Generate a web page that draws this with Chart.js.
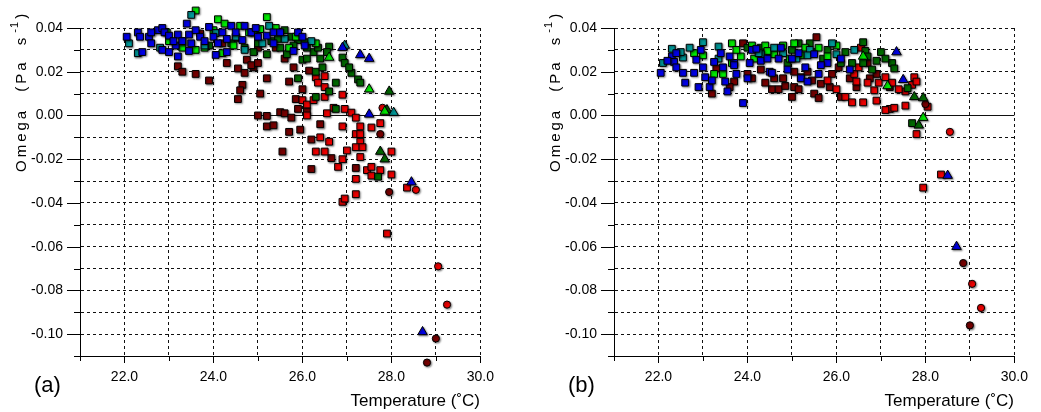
<!DOCTYPE html>
<html>
<head>
<meta charset="utf-8">
<script src="https://cdn.jsdelivr.net/npm/chart.js@4"></script>
<style>
  html, body { margin: 0; padding: 0; background: #fff; }
  #wrap { position: relative; width: 1041px; height: 412px; }
  .panel { position: absolute; top: 0; width: 507px; height: 412px; }
</style>
</head>
<body>
<div id="wrap">
  <div class="panel" style="left:0"><canvas id="panelA" width="507" height="412"></canvas></div>
  <div class="panel" style="left:534px"><canvas id="panelB" width="507" height="412"></canvas></div>
</div>
<script>
// temperature (x) / omega (y) pairs, one array per colour + marker
var aBlueSq = [[22.05,0.036],[22.3,0.038],[22.35,0.036],[22.55,0.036],[22.6,0.033],[22.4,0.029],[22.75,0.039],[22.85,0.040],[22.9,0.038],[23.0,0.0365],[23.2,0.037],[23.15,0.032],[22.85,0.030],[23.2,0.027],[23.4,0.042],[23.45,0.037],[23.5,0.033],[23.45,0.0295],[23.6,0.039],[23.7,0.036],[23.8,0.034],[23.9,0.0405],[24.0,0.036],[24.05,0.0277],[24.2,0.038],[24.3,0.035],[24.4,0.041],[24.5,0.038],[24.65,0.0345],[24.7,0.041],[24.85,0.038],[25.0,0.036],[25.2,0.0365],[25.35,0.038],[25.5,0.038],[25.35,0.033],[25.9,0.038],[26.05,0.032],[25.8,0.0295],[23.1,0.034],[22.6,0.038],[24.1,0.033],[23.3,0.034],[24.95,0.040],[26.0,0.036],[24.3,0.029],[23.0,0.029]]
var aTealSq = [[22.1,0.033],[22.3,0.0285],[23.5,0.046],[23.3,0.034],[24.05,0.0377],[24.5,0.036],[25.25,0.041],[25.1,0.033],[23.8,0.032],[24.7,0.030],[25.6,0.035],[26.2,0.034],[22.8,0.031]]
var aLimeSq = [[23.6,0.048],[22.95,0.038],[23.6,0.030],[23.8,0.031],[24.1,0.044],[24.25,0.042],[24.2,0.0285],[24.8,0.038],[25.2,0.045],[24.9,0.038],[25.85,0.036],[23.0,0.034],[24.45,0.032],[24.6,0.041],[25.05,0.0395],[25.4,0.040],[24.0,0.039],[25.7,0.031],[26.3,0.033],[23.3,0.031]]
var aDkGreenSq = [[24.7,0.031],[24.4,0.033],[25.0,0.033],[25.3,0.034],[25.6,0.039],[25.75,0.036],[25.9,0.0345],[26.0,0.0255],[26.1,0.026],[26.25,0.029],[26.4,0.026],[26.6,0.0315],[26.55,0.029],[26.9,0.0265],[26.95,0.024],[27.1,0.0195],[27.25,0.0165],[27.3,0.015],[26.75,0.015],[26.3,0.020],[25.9,0.017],[26.6,0.011],[26.3,0.0085],[27.7,-0.028],[25.5,0.031],[26.1,0.031],[24.9,0.029],[26.45,0.022],[27.05,0.022],[23.9,0.032],[25.2,0.028],[26.75,0.003],[25.45,0.035],[25.8,0.032],[26.05,0.0335],[26.35,0.031],[25.65,0.028]]
var aDkRedSq = [[23.2,0.0225],[23.3,0.020],[23.6,0.019],[23.9,0.016],[24.3,0.024],[24.55,0.0215],[24.7,0.0195],[24.65,0.014],[24.6,0.0115],[24.55,0.0075],[23.7,0.0375],[24.75,0.0255],[24.9,0.022],[24.85,0.023],[25.0,0.024],[25.2,0.017],[25.7,0.0155],[26.15,0.0205],[25.05,0.010],[25.85,0.0075],[25.0,0.000],[25.2,-0.0002],[25.5,0.0015],[25.2,-0.005],[25.35,-0.0045],[25.7,-0.0075],[25.55,-0.0165],[26.2,-0.0245],[25.95,-0.0065],[26.2,-0.011],[26.65,-0.0195],[27.2,-0.024],[25.6,0.001],[25.75,-0.001],[25.9,0.003],[26.1,0.002],[25.4,0.031],[24.2,0.033],[25.6,0.026],[26.0,0.012],[26.4,-0.004],[25.8,0.022],[24.5,0.0355],[25.0,0.031]]
var aRedSq = [[26.3,0.0175],[26.35,0.015],[26.5,0.013],[26.0,0.007],[26.1,0.005],[26.25,0.007],[26.5,0.0085],[26.9,0.0095],[26.7,0.0035],[26.95,0.003],[27.1,0.0013],[27.2,-0.001],[27.3,-0.005],[27.75,-0.0035],[27.55,-0.0055],[27.2,-0.0085],[27.3,-0.0085],[27.3,-0.012],[27.2,-0.0145],[27.35,-0.0145],[27.3,-0.019],[27.45,-0.025],[27.55,-0.0235],[27.55,-0.0275],[27.75,-0.025],[28.0,-0.027],[28.0,-0.0165],[27.2,-0.029],[27.2,-0.036],[26.8,-0.0235],[26.9,-0.020],[26.55,0.001],[26.9,-0.005],[26.3,-0.0165],[26.5,-0.0165],[26.4,-0.010],[26.9,-0.0395],[26.95,-0.038],[27.9,-0.054],[28.35,-0.033],[26.6,-0.012],[27.0,-0.016],[26.5,0.018],[26.1,0.0]]
var aDkGreenTri = [[27.95,0.011],[27.9,0.0025],[27.75,-0.0165],[27.85,-0.020]]
var aLimeTri = [[26.6,0.0265],[27.5,0.012],[27.85,0.0018]]
var aTealTri = [[26.95,0.032],[28.05,0.0013]]
var aBlueTri = [[26.9,0.031],[27.3,0.0277],[27.5,0.026],[27.5,0.0005],[28.45,-0.0305],[28.7,-0.099]]
var aRedCirc = [[27.8,0.0035],[28.55,-0.034],[29.05,-0.069],[29.25,-0.0865]]
var aDkRedCirc = [[27.75,-0.0085],[27.95,-0.035],[29.0,-0.102],[28.8,-0.113]]

var bBlueSq = [[22.05,0.0195],[22.3,0.027],[22.35,0.0245],[22.4,0.022],[22.4,0.0285],[22.55,0.0195],[22.6,0.015],[22.8,0.0195],[22.85,0.0255],[22.9,0.013],[22.95,0.030],[23.05,0.0175],[23.15,0.013],[23.2,0.016],[23.25,0.0245],[23.4,0.0285],[23.45,0.022],[23.5,0.0155],[23.55,0.011],[23.9,0.0057],[23.7,0.024],[23.75,0.019],[24.1,0.030],[24.5,0.020],[24.3,0.025],[24.75,0.031],[24.9,0.021],[25.0,0.026],[25.2,0.017],[25.3,0.022],[24.7,0.026],[25.5,0.028],[25.8,0.024],[26.1,0.026],[23.0,0.022],[24.0,0.017],[25.6,0.019],[26.3,0.021],[22.2,0.025],[23.6,0.027],[23.7,0.023],[24.2,0.0305],[24.55,0.0195],[25.15,0.0285],[25.35,0.0155],[24.45,0.026],[25.65,0.023],[24.05,0.024]]
var bTealSq = [[22.1,0.024],[22.3,0.0305],[22.55,0.0265],[22.7,0.031],[23.0,0.0335],[23.35,0.026],[24.3,0.028],[25.1,0.026],[24.6,0.031],[25.4,0.030],[26.0,0.028],[26.4,0.030],[25.9,0.033],[22.5,0.029],[23.35,0.0315],[24.25,0.0285],[24.8,0.0285],[25.35,0.0275]]
var bLimeSq = [[22.8,0.0285],[23.65,0.033],[23.65,0.024],[23.45,0.019],[23.85,0.027],[24.1,0.032],[24.4,0.032],[24.8,0.032],[24.95,0.026],[25.05,0.033],[23.25,0.019],[24.6,0.028],[25.3,0.031],[25.6,0.031],[26.0,0.032],[25.8,0.027],[23.0,0.0275],[24.45,0.0295],[23.75,0.030],[25.2,0.0275],[24.15,0.026]]
var bDkGreenSq = [[24.0,0.031],[25.15,0.033],[25.4,0.033],[26.6,0.0335],[26.65,0.0295],[26.7,0.027],[26.6,0.024],[27.25,0.024],[27.3,0.0215],[27.6,0.0125],[27.7,-0.0035],[25.7,0.026],[26.2,0.029],[25.45,0.029],[24.5,0.029],[26.9,0.025],[27.0,0.029],[24.9,0.024],[26.35,0.024],[27.1,0.026],[25.8,0.030],[26.1,0.024],[26.8,0.021],[25.0,0.030],[24.3,0.031]]
var bDkRedSq = [[23.2,0.010],[23.3,0.0215],[23.7,0.0155],[23.9,0.033],[24.55,0.012],[24.7,0.012],[24.85,0.0135],[25.0,0.0085],[25.05,0.013],[25.2,0.0175],[25.15,0.012],[25.5,0.010],[25.65,0.0145],[25.6,0.008],[25.85,0.013],[26.1,0.0085],[25.55,0.0358],[26.7,0.024],[24.3,0.021],[24.1,0.017],[23.6,0.013],[24.4,0.015],[25.9,0.019],[26.3,0.017],[26.9,0.019],[27.2,0.013],[24.8,0.017],[25.35,0.020],[26.05,0.022],[24.0,0.019],[24.6,0.017],[25.05,0.020],[25.45,0.016],[26.45,0.013],[26.75,0.017]]
var bRedSq = [[26.4,0.019],[26.2,0.0085],[26.35,0.006],[26.45,0.0155],[26.5,0.022],[26.55,0.031],[26.7,0.015],[26.85,0.0115],[26.9,0.0068],[26.95,0.015],[27.1,0.0175],[27.25,0.015],[27.2,0.003],[27.3,0.0035],[27.1,0.0025],[27.55,0.0045],[27.55,0.011],[27.7,0.014],[27.75,0.0175],[27.8,0.0155],[28.05,0.004],[27.8,-0.0085],[28.35,-0.027],[27.95,-0.033],[26.0,0.012],[25.8,0.016],[26.6,0.006],[27.4,0.012]]
var bDkGreenTri = [[27.75,0.0085],[27.95,0.008],[27.85,-0.0045]]
var bLimeTri = [[26.6,0.027],[27.15,0.0135],[27.95,-0.001]]
var bBlueTri = [[27.35,0.029],[27.5,0.0163],[28.5,-0.0275],[28.7,-0.060]]
var bRedCirc = [[28.55,-0.0075],[29.05,-0.077],[29.25,-0.088]]
var bDkRedCirc = [[28.0,0.0052],[28.85,-0.0675],[29.0,-0.096]]

// axis ranges
var xMin = 21, xMax = 30
var yMin = -0.11, yMax = 0.04

var BLUE = '#0000e8', TEAL = '#009898', LIME = '#00ec00'
var DKGREEN = '#006a00', DKRED = '#780000', RED = '#ee0000'
var FONT = '"Liberation Sans", Arial, sans-serif'

function series(points, color, shape) {
  var r = shape === 'rect' ? 4.8 : (shape === 'triangle' ? 5.5 : 3.6)
  return {
    data: points.map(function (p) { return { x: p[0], y: p[1] } }),
    pointStyle: shape,
    backgroundColor: color,
    borderColor: '#000',
    borderWidth: 1,
    pointRadius: r,
    pointHoverRadius: r,
    clip: false
  }
}

// dashed grid everywhere except the zero line and the axis borders
function gridDash(c) {
  if (c.type === 'tick' && Math.abs(c.tick.value) > 1e-9) return [3, 3]
  return []
}

//----------------------------
//- ticks, titles, shadows   -
//----------------------------
var decor = {
  id: 'decor',
  beforeDatasetsDraw: function (chart) {
    // let markers spill a little past the top/bottom of the plot box
    var area = chart.chartArea
    chart._savedArea = area
    chart.chartArea = Object.assign({}, area, { top: area.top - 30, bottom: area.bottom + 30 })
    var ctx = chart.ctx
    ctx.save()
    ctx.shadowColor = 'rgba(0,0,0,0.45)'
    ctx.shadowBlur = 2
    ctx.shadowOffsetX = 1
    ctx.shadowOffsetY = 1
  },
  afterDatasetsDraw: function (chart) {
    chart.ctx.restore()
    chart.chartArea = chart._savedArea
  },
  afterDraw: function (chart, args, opts) {
    var ctx = chart.ctx
    var xs = chart.scales.x, ys = chart.scales.y
    var area = chart.chartArea
    ctx.save()
    ctx.strokeStyle = '#000'
    ctx.lineWidth = 1
    ctx.beginPath()
    ys.ticks.forEach(function (t) {
      var py = Math.round(ys.getPixelForValue(t.value)) + 0.5
      var k = Math.round(t.value * 100)
      var len = k % 2 === 0 ? 13 : 6
      ctx.moveTo(area.left - len, py)
      ctx.lineTo(area.left, py)
    })
    xs.ticks.forEach(function (t) {
      var px = Math.round(xs.getPixelForValue(t.value)) + 0.5
      var len = t.value % 2 === 0 ? 7 : 5
      ctx.moveTo(px, area.bottom)
      ctx.lineTo(px, area.bottom + len)
    })
    ctx.stroke()

    ctx.fillStyle = '#000'
    ctx.textBaseline = 'middle'

    // x title
    ctx.font = '17px ' + FONT
    ctx.textAlign = 'right'
    ctx.fillText('Temperature (\u02DAC)', 480, 401)

    // panel letter
    ctx.font = '22px ' + FONT
    ctx.textAlign = 'left'
    ctx.fillText(opts.label, 34, 386)

    // y title, rotated, with superscript
    ctx.translate(22, 172)
    ctx.rotate(-Math.PI / 2)
    ctx.textAlign = 'left'
    ctx.letterSpacing = '3px'
    ctx.font = '15px ' + FONT
    var x = 0
    ctx.fillText('Omega', x, 0)
    x += ctx.measureText('Omega').width + 16
    ctx.fillText('(Pa  s', x, 0)
    x += ctx.measureText('(Pa  s').width + 2
    ctx.font = '11px ' + FONT
    ctx.letterSpacing = '1px'
    ctx.fillText('-1', x, -7)
    x += ctx.measureText('-1').width + 2
    ctx.font = '15px ' + FONT
    ctx.fillText(')', x, 0)
    ctx.restore()
  }
}

function makeChart(id, label, sets) {
  var canvas = document.getElementById(id).getContext('2d')
  return new Chart(canvas, {
    type: 'scatter',
    data: {
      datasets: [
        series(sets.blueTri, BLUE, 'triangle'),
        series(sets.tealTri, TEAL, 'triangle'),
        series(sets.limeTri, LIME, 'triangle'),
        series(sets.dkGreenTri, DKGREEN, 'triangle'),
        series(sets.redCirc, RED, 'circle'),
        series(sets.dkRedCirc, DKRED, 'circle'),
        series(sets.blueSq, BLUE, 'rect'),
        series(sets.tealSq, TEAL, 'rect'),
        series(sets.limeSq, LIME, 'rect'),
        series(sets.dkGreenSq, DKGREEN, 'rect'),
        series(sets.redSq, RED, 'rect'),
        series(sets.dkRedSq, DKRED, 'rect')
      ]
    },
    options: {
      responsive: false,
      animation: false,
      events: [],
      layout: { padding: { top: 28, right: 17, left: 0, bottom: 0 } },
      plugins: {
        legend: { display: false },
        tooltip: { enabled: false },
        decor: { label: label }
      },
      scales: {
        x: {
          type: 'linear',
          min: xMin,
          max: xMax,
          afterFit: function (s) { s.height = 56 },
          ticks: {
            stepSize: 1,
            autoSkip: false,
            maxRotation: 0,
            padding: 13,
            color: '#000',
            font: { size: 14, family: FONT },
            callback: function (v) { return v % 2 === 0 ? v.toFixed(1) : '' }
          },
          grid: { color: '#111', lineWidth: 1, drawTicks: false },
          border: { color: '#000', width: 1, dash: gridDash }
        },
        y: {
          type: 'linear',
          min: yMin,
          max: yMax,
          afterFit: function (s) { s.width = 80 },
          ticks: {
            stepSize: 0.01,
            autoSkip: false,
            padding: 17,
            color: '#000',
            font: { size: 14, family: FONT },
            callback: function (v) {
              var k = Math.round(v * 100)
              return k % 2 === 0 ? (k / 100).toFixed(2) : ''
            }
          },
          grid: { color: '#111', lineWidth: 1, drawTicks: false },
          border: { color: '#000', width: 1, dash: gridDash }
        }
      }
    },
    plugins: [decor]
  })
}

makeChart('panelA', '(a)', {
  blueSq: aBlueSq, tealSq: aTealSq, limeSq: aLimeSq, dkGreenSq: aDkGreenSq, dkRedSq: aDkRedSq, redSq: aRedSq,
  blueTri: aBlueTri, tealTri: aTealTri, limeTri: aLimeTri, dkGreenTri: aDkGreenTri,
  redCirc: aRedCirc, dkRedCirc: aDkRedCirc
})

makeChart('panelB', '(b)', {
  blueSq: bBlueSq, tealSq: bTealSq, limeSq: bLimeSq, dkGreenSq: bDkGreenSq, dkRedSq: bDkRedSq, redSq: bRedSq,
  blueTri: bBlueTri, tealTri: [], limeTri: bLimeTri, dkGreenTri: bDkGreenTri,
  redCirc: bRedCirc, dkRedCirc: bDkRedCirc
})
</script>
</body>
</html>
